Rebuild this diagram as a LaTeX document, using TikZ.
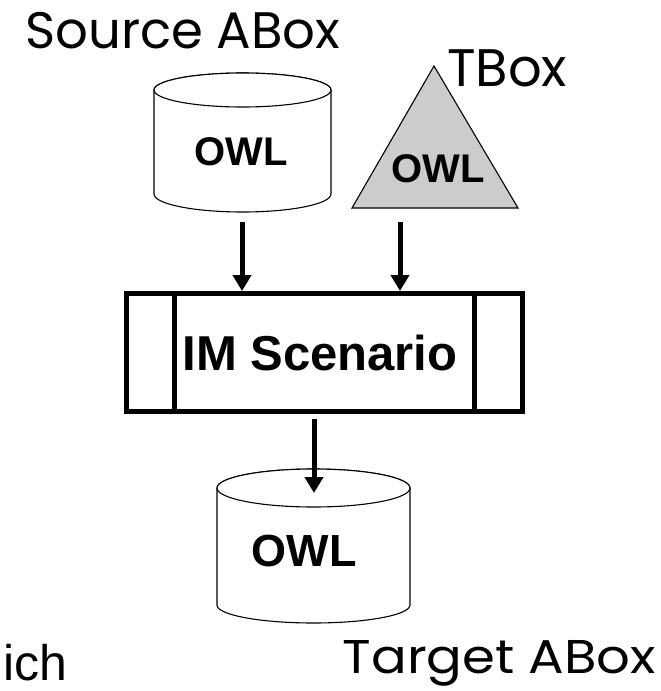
\documentclass[tikz,border=0pt]{standalone}
\usepackage{fontspec}
\setmainfont{Liberation Sans}
\newfontfamily\handfont{Poppins}
\usetikzlibrary{arrows.meta}
\definecolor{trifill}{RGB}{204,204,204}
\tikzset{
  outline/.style={draw=black, line width=1.1pt, fill=white},
  owl/.style={font=\bfseries\fontsize{40}{40}\selectfont, inner sep=0pt},
  bigowl/.style={font=\bfseries\fontsize{45}{45}\selectfont, inner sep=0pt},
  flow/.style={line width=5pt, -{Triangle[length=16pt,width=18pt]}},
  handlabel/.style={inner sep=0pt, font=\handfont},
  frame/.style={draw=black, line width=5pt, inner sep=0pt,
    minimum width=396pt, minimum height=118pt},
  frametext/.style={inner sep=0pt, font=\bfseries\fontsize{49}{49}\selectfont}
}
\begin{document}
\begin{tikzpicture}[x=1pt, y=-1pt]
  \useasboundingbox (0,0) rectangle (661,691);

  % labels
  \node[handlabel, anchor=base west] (src-label) at (25,48)
    {\resizebox{315pt}{!}{Source ABox}};
  \node[handlabel, anchor=base west] (tbox-label) at (447,86)
    {\resizebox{120pt}{!}{TBox}};
  \node[inner sep=0pt, anchor=base west, font=\fontsize{50}{50}\selectfont]
    (ich-label) at (3,680) {ich};
  \node[handlabel, anchor=base east] (tgt-label) at (656,673)
    {\resizebox{313pt}{33pt}{Target ABox}};

  % source ABox store
  \path[outline] (154,90) -- (154,194)
    arc[start angle=180, end angle=0, x radius=88.5, y radius=18]
    -- (331,90)
    arc[start angle=0, end angle=-180, x radius=88.5, y radius=17] -- cycle;
  \draw[outline] (242.5,90) ellipse[x radius=88.5, y radius=17];
  \node[owl] (src-owl) at (241,152) {OWL};

  % TBox ontology
  \path[outline, fill=trifill] (434,66) -- (518,208) -- (352,208) -- cycle;
  \node[owl] (tbox-owl) at (438,169) {OWL};

  % integration scenario
  \node[frame] (im) at (324.5,352.5) {};
  \node[frametext] (im-text) at (320,353) {IM Scenario};
  \draw[line width=5pt] ([xshift=50.5pt]im.north west) -- ([xshift=50.5pt]im.south west);
  \draw[line width=5pt] ([xshift=-50.5pt]im.north east) -- ([xshift=-50.5pt]im.south east);

  % target ABox store
  \path[outline] (217,488) -- (217,605)
    arc[start angle=180, end angle=0, x radius=96.5, y radius=18]
    -- (410,488)
    arc[start angle=0, end angle=-180, x radius=96.5, y radius=19] -- cycle;
  \draw[outline] (313.5,488) ellipse[x radius=96.5, y radius=19];
  \node[bigowl] (tgt-owl) at (304,551) {OWL};

  % data flow
  \coordinate (src-out) at (242,222);
  \coordinate (tbox-out) at (400,222);
  \coordinate (im-out) at (314,419);
  \coordinate (tgt-in) at (314,493);
  \draw[flow] (src-out) -- (src-out |- im.north);
  \draw[flow] (tbox-out) -- (tbox-out |- im.north);
  \draw[flow] (im-out) -- (tgt-in);
\end{tikzpicture}
\end{document}
